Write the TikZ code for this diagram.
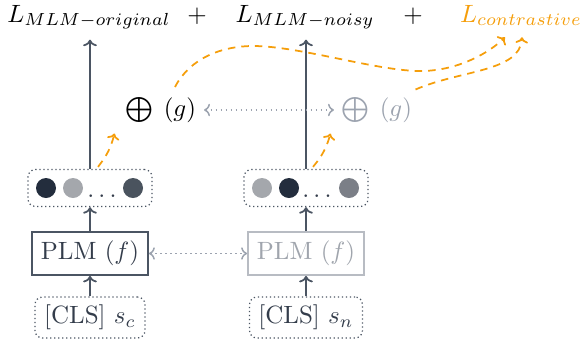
\documentclass[tikz,border=0pt]{standalone}
\usepackage{amsmath}
\usetikzlibrary{arrows.meta}
\definecolor{linec}{HTML}{4B5563}
\definecolor{txtc}{HTML}{343D4B}
\definecolor{lgray}{HTML}{A0A5AD}
\definecolor{lborder}{HTML}{B8BCC3}
\definecolor{garrc}{HTML}{9CA3AF}
\definecolor{orng}{HTML}{F59E0B}
\definecolor{dkdot}{HTML}{232D3D}
\definecolor{ltdot}{HTML}{A4A7AC}
\definecolor{mddot}{HTML}{4A535E}
\definecolor{m2dot}{HTML}{7B7F87}
\begin{document}
\begin{tikzpicture}[x=0.4pt,y=-0.4pt,
  loss/.style={inner sep=1pt, anchor=base},
  arr/.style={draw=linec, line width=0.7pt, -{To[length=2.6pt,width=5.5pt]}},
  garr/.style={draw=garrc, line width=0.6pt, dash pattern=on 0.6pt off 1.4pt,
     {To[length=2.4pt,width=5pt]}-{To[length=2.4pt,width=5pt]}},
  oarr/.style={draw=orng, line width=0.7pt, dash pattern=on 3pt off 2.4pt,
     -{To[length=2.4pt,width=5pt]}},
  dotbox/.style={draw=linec, line width=0.5pt, dash pattern=on 0.5pt off 1.1pt,
     rounded corners=3pt, minimum width=49.6pt, minimum height=14.8pt, inner sep=0pt},
  dotc/.style={circle, minimum size=8pt, inner sep=0pt},
  plmbox/.style={draw=linec, line width=0.7pt, minimum width=46.4pt, minimum height=17.2pt,
     inner sep=0pt, text=txtc},
  clsbox/.style={draw=linec, line width=0.5pt, dash pattern=on 0.5pt off 1.1pt,
     rounded corners=3pt, minimum width=44pt, minimum height=16.4pt, inner sep=0pt, text=txtc},
  opnode/.style={inner sep=2pt}
]
\useasboundingbox (0,0) rectangle (584,347);

% top losses
\node[loss] (lorig) at (89,22) {$L_{MLM-original}$};
\node[loss] (p1) at (197,22) {$+$};
\node[loss] (lnoisy) at (305,22) {$L_{MLM-noisy}$};
\node[loss] (p2) at (413,22) {$+$};
\node[loss, text=orng] (lcon) at (521,22) {$L_{contrastive}$};

% combine nodes
\node[opnode] (op1) at (161,110) {$\bigoplus$\hspace{4pt}$(g)$};
\node[opnode, text=garrc] (op2) at (377,110) {$\bigoplus$\hspace{4pt}$(g)$};

% dot boxes
\node[dotbox] (d1) at (90,188) {};
\node[dotc, fill=dkdot] (d1a) at (46,188) {};
\node[dotc, fill=ltdot] (d1b) at (73,188) {};
\node[anchor=base, inner sep=0pt, text=txtc] (d1e) at (104,197) {$\dots$};
\node[dotc, fill=mddot] (d1c) at (133,188) {};

\node[dotbox] (d2) at (306,188) {};
\node[dotc, fill=ltdot] (d2a) at (262,188) {};
\node[dotc, fill=dkdot] (d2b) at (289,188) {};
\node[anchor=base, inner sep=0pt, text=txtc] (d2e) at (319,197) {$\dots$};
\node[dotc, fill=m2dot] (d2c) at (349,188) {};

% PLM boxes
\node[plmbox] (f1) at (90,253.5) {PLM $(f)$};
\node[plmbox, draw=lborder, text=lgray] (f2) at (306,253.5) {PLM $(f)$};

% CLS boxes
\node[clsbox] (s1) at (90,317.5) {[CLS] $s_c$};
\node[clsbox, minimum width=45.2pt] (s2) at (306,317.5) {[CLS] $s_n$};

% vertical arrows
\draw[arr] (s1) -- (f1);
\draw[arr] (f1) -- (d1);
\draw[arr] (d1.north) -- ([yshift=-3pt]d1.north |- lorig.south);
\draw[arr] (s2) -- (f2);
\draw[arr] (f2) -- (d2);
\draw[arr] (d2.north) -- ([yshift=-3pt]d2.north |- lnoisy.south);

% gray dotted links
\draw[garr] (f1) -- (f2);
\draw[garr, shorten <=1pt, shorten >=1pt] (op1) -- (op2);

% orange dashed arrows
\draw[oarr] ([xshift=3.2pt,yshift=0.8pt]d1.north) to[bend right=12] ([xshift=-2.4pt,yshift=-2.2pt]op1.south west);
\draw[oarr] ([xshift=2.8pt,yshift=0.8pt]d2.north) to[bend right=12] ([xshift=-2.4pt,yshift=-2.2pt]op2.south west);

\draw[oarr] ([xshift=5.6pt,yshift=2pt]op1.north) .. controls (190,58) and (222,46) .. (253,46)
   .. controls (300,46) and (380,72) .. (423,71)
   .. controls (460,70) and (490,52) .. ([xshift=-6.4pt,yshift=-3.4pt]lcon.south);
\draw[oarr] ([xshift=-0.8pt,yshift=1pt]op2.north east) .. controls (460,70) and (520,72) .. ([xshift=0.4pt,yshift=-3.4pt]lcon.south);
\end{tikzpicture}
\end{document}
